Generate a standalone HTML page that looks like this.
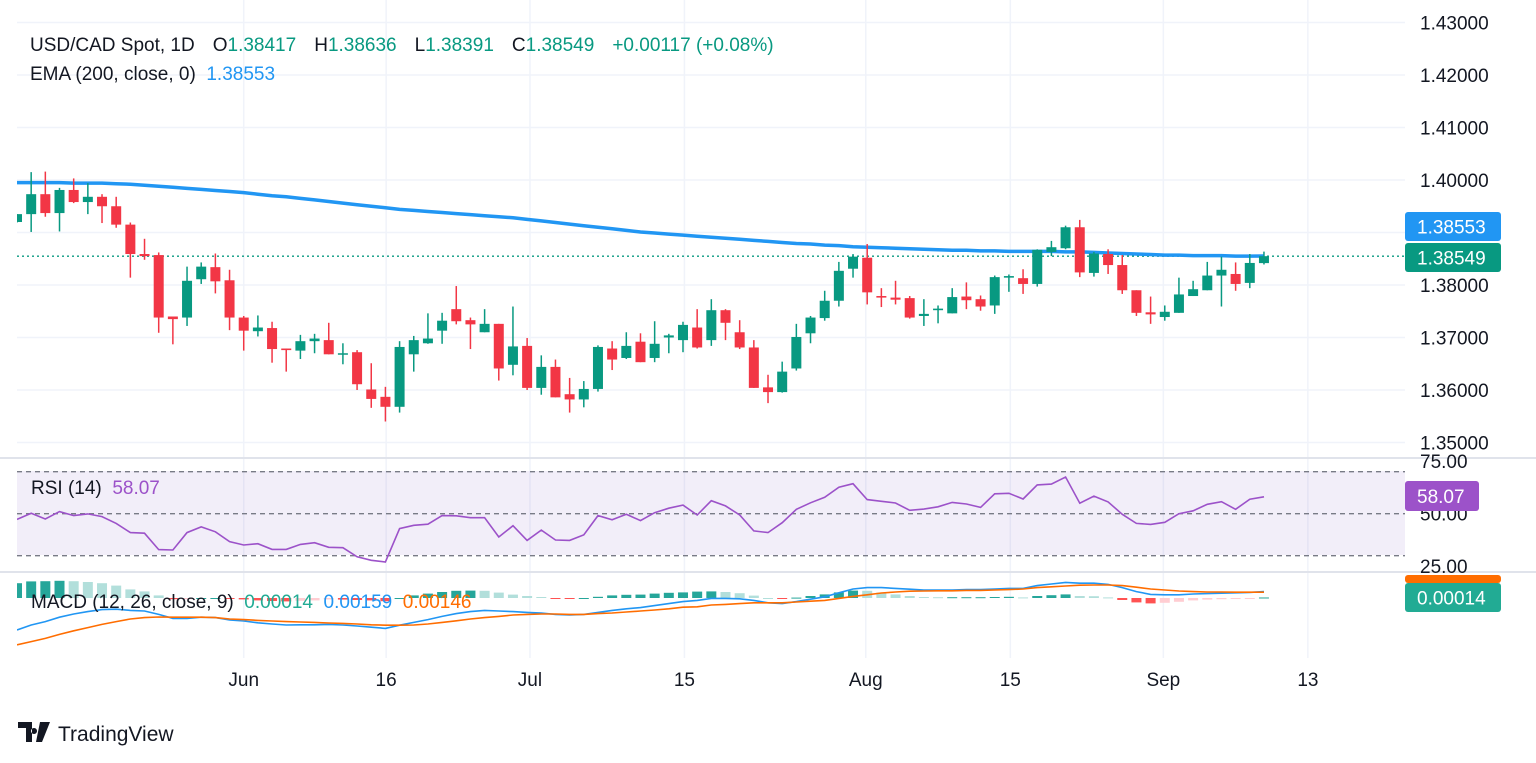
<!DOCTYPE html>
<html><head><meta charset="utf-8"><style>
html,body{margin:0;padding:0;background:#fff;}
svg{display:block;font-family:"Liberation Sans",Arial,sans-serif;}
text{white-space:pre;}
</style></head><body>
<svg id="chart" width="1536" height="763" viewBox="0 0 1536 763" xmlns="http://www.w3.org/2000/svg">
<defs><clipPath id="plotclip"><rect x="17" y="0" width="1388" height="660"/></clipPath></defs>
<rect width="1536" height="763" fill="#fff"/>
<g id="grid"></g>
<rect x="17" y="471" width="1388" height="84" fill="#7e57c2" fill-opacity="0.1"/>
<g id="panes"></g>
<g id="marks" clip-path="url(#plotclip)"></g>
<g id="axes"></g>
<g font-size="19">
<text x="30" y="51" fill="#131722">USD/CAD Spot, 1D<tspan dx="18">O</tspan><tspan fill="#089981">1.38417</tspan><tspan dx="18">H</tspan><tspan fill="#089981">1.38636</tspan><tspan dx="18">L</tspan><tspan fill="#089981">1.38391</tspan><tspan dx="18">C</tspan><tspan fill="#089981">1.38549</tspan><tspan dx="18" fill="#089981">+0.00117 (+0.08%)</tspan></text>
<text x="30" y="80" fill="#131722">EMA (200, close, 0)  <tspan fill="#2196f3">1.38553</tspan></text>
<text x="31" y="494" fill="#131722">RSI (14)  <tspan fill="#9c52c9">58.07</tspan></text>
<text x="31" y="608" fill="#131722">MACD (12, 26, close, 9)  <tspan fill="#22ab94">0.00014</tspan>  <tspan fill="#2196f3">0.00159</tspan>  <tspan fill="#ff6d00">0.00146</tspan></text>
</g>
<g>
<path d="M18 722h14v20h-6v-14h-8z M34 728a3 3 0 1 0 0.01 0z M40 722h10l-8 20h-6z" fill="#131722"/>
<text x="58" y="741" font-size="21" fill="#131722">TradingView</text>
</g>
</svg>
<script>
const opens=[1.3920,1.3935,1.3973,1.3937,1.3981,1.3958,1.3968,1.3950,1.3915,1.3859,
1.3857,1.3740,1.3738,1.3811,1.3834,1.3809,1.3738,1.3712,1.3718,1.3679,
1.3675,1.3693,1.3695,1.3668,1.3672,1.3601,1.3587,1.3568,1.3668,1.3689,
1.3713,1.3754,1.3733,1.3710,1.3726,1.3648,1.3684,1.3604,1.3644,1.3592,
1.3582,1.3602,1.3679,1.3661,1.3692,1.3661,1.3700,1.3695,1.3719,1.3695,
1.3752,1.3710,1.3681,1.3605,1.3596,1.3641,1.3708,1.3737,1.3770,1.3831,
1.3852,1.3779,1.3776,1.3775,1.3741,1.3752,1.3746,1.3778,1.3773,1.3761,
1.3814,1.3813,1.3802,1.3863,1.3870,1.3910,1.3823,1.3859,1.3838,1.3790,
1.3748,1.3739,1.3747,1.3779,1.3790,1.3818,1.3821,1.3804,1.38417];
const highs=[1.3935,1.4015,1.4016,1.3985,1.4003,1.3994,1.3973,1.3968,1.3919,1.3888,
1.3862,1.3740,1.3835,1.3843,1.3860,1.3829,1.3741,1.3742,1.3730,1.3679,
1.3705,1.3707,1.3728,1.3689,1.3676,1.3651,1.3606,1.3693,1.3703,1.3746,
1.3747,1.3798,1.3738,1.3754,1.3726,1.3759,1.3699,1.3666,1.3658,1.3623,
1.3617,1.3685,1.3693,1.3710,1.3708,1.3731,1.3707,1.3730,1.3754,1.3773,
1.3754,1.3733,1.3695,1.3629,1.3654,1.3726,1.3741,1.3789,1.3844,1.3859,
1.3878,1.3794,1.3808,1.3779,1.3773,1.3761,1.3794,1.3805,1.3780,1.3818,
1.3820,1.3830,1.3868,1.3884,1.3913,1.3924,1.3863,1.3868,1.3857,1.3790,
1.3778,1.3761,1.3814,1.3808,1.3844,1.3854,1.3843,1.3859,1.38636];
const lows=[1.3919,1.3901,1.3930,1.3902,1.3956,1.3935,1.3918,1.3909,1.3814,1.3848,
1.3709,1.3687,1.3722,1.3802,1.3784,1.3714,1.3675,1.3702,1.3652,1.3635,
1.3659,1.3670,1.3668,1.3649,1.3600,1.3566,1.3540,1.3557,1.3635,1.3688,
1.3688,1.3725,1.3678,1.3710,1.3618,1.3628,1.3600,1.3591,1.3586,1.3557,
1.3567,1.3597,1.3638,1.3659,1.3653,1.3653,1.3670,1.3672,1.3679,1.3684,
1.3695,1.3678,1.3604,1.3575,1.3595,1.3637,1.3689,1.3732,1.3759,1.3814,
1.3763,1.3758,1.3763,1.3736,1.3722,1.3727,1.3746,1.3754,1.3751,1.3745,
1.3787,1.3783,1.3797,1.3855,1.3868,1.3815,1.3816,1.3821,1.3783,1.3741,
1.3726,1.3732,1.3747,1.3779,1.3790,1.3759,1.3789,1.3794,1.38391];
const closes=[1.3935,1.3973,1.3937,1.3981,1.3958,1.3968,1.3950,1.3915,1.3859,1.3855,
1.3738,1.3735,1.3808,1.3835,1.3807,1.3738,1.3713,1.3719,1.3678,1.3676,
1.3693,1.3698,1.3668,1.3670,1.3611,1.3583,1.3568,1.3682,1.3695,1.3698,
1.3732,1.3731,1.3725,1.3726,1.3641,1.3683,1.3604,1.3644,1.3586,1.3582,
1.3602,1.3682,1.3658,1.3684,1.3653,1.3688,1.3704,1.3724,1.3681,1.3752,
1.3728,1.3681,1.3604,1.3596,1.3635,1.3701,1.3738,1.3770,1.3827,1.3854,
1.3786,1.3776,1.3772,1.3738,1.3745,1.3755,1.3777,1.3771,1.3759,1.3815,
1.3817,1.3802,1.3867,1.3872,1.3910,1.3824,1.3860,1.3838,1.3790,1.3747,
1.3744,1.3749,1.3782,1.3792,1.3818,1.3829,1.3802,1.3842,1.38549];
const ema200=[1.3995,1.3995,1.3995,1.3995,1.3994,1.3994,1.3994,1.3993,1.3992,1.3990,
1.3988,1.3986,1.3984,1.3982,1.3980,1.3978,1.3976,1.3973,1.3970,1.3968,
1.3965,1.3962,1.3959,1.3956,1.3953,1.3950,1.3947,1.3944,1.3942,1.3940,
1.3938,1.3936,1.3934,1.3932,1.3930,1.3928,1.3925,1.3922,1.3919,1.3916,
1.3913,1.3910,1.3907,1.3904,1.3901,1.3899,1.3897,1.3895,1.3893,1.3891,
1.3889,1.3887,1.3885,1.3883,1.3881,1.3879,1.3878,1.3876,1.3875,1.3873,
1.3872,1.3871,1.3870,1.3869,1.3868,1.3867,1.3866,1.3866,1.3865,1.3865,
1.3864,1.3864,1.3864,1.3864,1.3863,1.3863,1.3862,1.3861,1.3860,1.3859,
1.3858,1.3857,1.3857,1.3856,1.3856,1.3856,1.3855,1.3855,1.38553];
const rsi=[47.3,50.2,47.5,51.0,49.1,49.9,48.6,45.4,41.0,40.7,
32.9,32.7,41.0,43.7,41.4,36.7,35.1,35.7,33.0,33.0,
35.4,36.2,34.0,33.8,29.5,27.8,27.0,42.9,44.5,45.0,
49.1,49.0,48.1,48.1,38.9,44.3,37.3,42.2,37.5,37.3,
39.9,49.1,47.1,49.7,46.7,50.5,52.6,54.1,49.4,
56.2,53.7,49.4,41.8,41.0,45.7,52.1,55.2,57.8,62.6,64.3,
56.7,55.9,55.1,51.6,52.2,53.3,55.4,54.6,53.0,59.5,59.7,
57.0,63.7,64.1,67.5,55.0,58.4,55.6,49.7,45.4,44.9,45.9,
50.0,51.4,54.5,55.7,52.1,56.9,58.07];
const macdLine=[-8.0,-6.75,-5.9,-4.8,-4.0,-3.4,-2.9,-2.8,-3.1,-3.25,
-4.1,-5.1,-5.1,-4.8,-4.9,-5.5,-5.75,-6.2,-6.5,-6.75,
-6.7,-6.7,-6.6,-6.75,-7.0,-7.3,-7.6,-6.8,-6.1,-5.4,
-4.6,-3.9,-3.4,-3.1,-3.25,-3.4,-3.6,-3.75,-4.1,-4.25,
-4.1,-3.6,-3.1,-2.7,-2.4,-1.9,-1.4,-0.9,-0.6,
-0.1,-0.1,-0.2,-0.6,-1.2,-1.4,-0.9,-0.3,0.3,1.3,2.25,
2.6,2.6,2.4,2.2,2.0,2.0,2.0,2.1,2.1,2.25,2.4,
2.4,3.1,3.5,3.9,3.7,3.7,3.4,2.6,1.6,0.9,0.8,
0.8,1.0,1.1,1.2,1.3,1.4,1.59];
const signalLine=[-11.7,-10.9,-10.1,-9.1,-8.2,-7.4,-6.6,-5.9,-5.25,-4.9,
-4.75,-4.8,-4.8,-4.8,-4.9,-5.25,-5.4,-5.6,-5.75,-5.9,
-6.0,-6.1,-6.25,-6.35,-6.5,-6.7,-6.8,-6.8,-6.75,-6.5,
-6.1,-5.7,-5.25,-4.9,-4.6,-4.25,-4.1,-4.0,-4.0,-4.1,
-4.1,-3.9,-3.75,-3.5,-3.25,-3.0,-2.7,-2.3,-2.2,
-1.75,-1.6,-1.4,-1.2,-1.2,-1.2,-1.0,-0.8,-0.6,-0.1,0.4,
0.8,1.25,1.5,1.7,1.75,1.8,1.8,1.9,1.9,2.0,2.1,
2.25,2.6,2.8,3.0,3.2,3.25,3.25,3.1,2.7,2.25,2.0,
1.75,1.6,1.5,1.5,1.45,1.45,1.46];
const priceTicks=[1.43,1.42,1.41,1.40,1.39,1.38,1.37,1.36,1.35];
const priceTickLabels=["1.43000","1.42000","1.41000","1.40000","","1.38000","1.37000","1.36000","1.35000"];
const dateLabels=["Jun","16","Jul","15","Aug","15","Sep","13"];
const dateIdx=[16,26.05,36.2,47.1,59.9,70.1,80.9,91.1];
const rsiTicks=[75,50,25];
const rsiTickLabels=["75.00","50.00","25.00"];

const NS="http://www.w3.org/2000/svg";
const xOf=i=>17+14.17*i;
const yP=p=>180-(p-1.40)*5250;
const yR=r=>513.7-(r-50)*2.1;
const yM=v=>598-v*4;
function mk(tag,attrs,parent){const e=document.createElementNS(NS,tag);for(const k in attrs)e.setAttribute(k,attrs[k]);document.getElementById(parent).appendChild(e);return e;}

priceTicks.forEach((p,k)=>{
  const l=mk('line',{x1:17,x2:1405,y1:yP(p),y2:yP(p),stroke:'#f0f3fa','stroke-width':1.5},'grid');
  
  
  if(priceTickLabels[k]){
    const t=mk('text',{x:1420,y:yP(p)+7,'font-size':19,fill:'#131722'},'axes');
    t.textContent=priceTickLabels[k];
    
    
  }
});
dateIdx.forEach((d,k)=>{
  const x=xOf(d);
  const l=mk('line',{x1:x,x2:x,y1:0,y2:658,stroke:'#f0f3fa','stroke-width':1.5},'grid');
  
  
  const t=mk('text',{x:x,y:686,'font-size':19,fill:'#131722','text-anchor':'middle'},'axes');
  t.textContent=dateLabels[k];
  
  
});
[458,572].forEach(y=>{
  const l=mk('line',{x1:0,x2:1536,y1:y,y2:y,stroke:'#e0e3eb','stroke-width':2},'panes');
  
  
});
[70,50,30].forEach(v=>{
  const l=mk('line',{x1:17,x2:1405,y1:yR(v),y2:yR(v),stroke:'#787b86','stroke-width':1.3,'stroke-dasharray':'5 4'},'panes');
  
  
});
rsiTicks.forEach((v,k)=>{
  const t=mk('text',{x:1420,y:yR(v)+7,'font-size':19,fill:'#131722'},'axes');
  t.textContent=rsiTickLabels[k];
  
  
});
{const l=mk('line',{x1:17,x2:1405,y1:yP(closes[closes.length-1]),y2:yP(closes[closes.length-1]),stroke:'#089981','stroke-width':1.3,'stroke-dasharray':'2 3'},'marks');

}
{let d='';ema200.forEach((v,i)=>{d+=(i?'L':'M')+xOf(i).toFixed(1)+' '+yP(v).toFixed(1);});
const p=mk('path',{d:d,fill:'none',stroke:'#2196f3','stroke-width':3.5},'marks');

}
opens.forEach((o,i)=>{
  const c=closes[i],up=c>=o,col=up?'#089981':'#f23645',x=xOf(i);
  const w=mk('line',{x1:x,x2:x,y1:yP(highs[i]),y2:yP(lows[i]),stroke:col,'stroke-width':1.5},'marks');
  
  
  const top=yP(Math.max(o,c)),bot=yP(Math.min(o,c));
  const b=mk('rect',{x:x-5,y:top,width:10,height:Math.max(1.5,bot-top),fill:col},'marks');
  
  
});
{let d='';rsi.forEach((v,i)=>{d+=(i?'L':'M')+xOf(i).toFixed(1)+' '+yR(v).toFixed(1);});
const p=mk('path',{d:d,fill:'none',stroke:'#9c52c9','stroke-width':1.6},'marks');

}
macdLine.forEach((m,i)=>{
  const h=m-signalLine[i],prev=i?macdLine[i-1]-signalLine[i-1]:h;
  let col;
  if(h>=0)col=h>=prev?'#26a69a':'#b2dfdb';else col=h<prev?'#ff5252':'#ffcdd2';
  const y0=yM(0),y1=yM(h);
  const r=mk('rect',{x:xOf(i)-5,y:Math.min(y0,y1),width:10,height:Math.max(1,Math.abs(y1-y0)),fill:col},'marks');
  
  
});
[[macdLine,'#2196f3','macd-line'],[signalLine,'#ff6d00','signal-line']].forEach(([arr,col,name])=>{
  let d='';arr.forEach((v,i)=>{d+=(i?'L':'M')+xOf(i).toFixed(1)+' '+yM(v).toFixed(1);});
  const p=mk('path',{d:d,fill:'none',stroke:col,'stroke-width':1.6},'marks');
  
  
});
function tag(y,h,w,fill,txt,name){
  const r=mk('rect',{x:1405,y:y,width:w,height:h,rx:3,fill:fill},'axes');
  
  
  if(txt){const t=mk('text',{x:1417,y:y+h/2+7,'font-size':19,fill:'#fff'},'axes');
  t.textContent=txt;
  
  }
}
tag(212,29,96,'#2196f3','1.38553','ema-value-tag');
tag(243,29,96,'#089981','1.38549','last-price-tag');
tag(481,30,74,'#9c52c9','58.07','rsi-value-tag');
tag(575,8,96,'#ff6d00','','signal-value-tag');
tag(583,29,96,'#22ab94','0.00014','macd-value-tag');
</script>
</body></html>
